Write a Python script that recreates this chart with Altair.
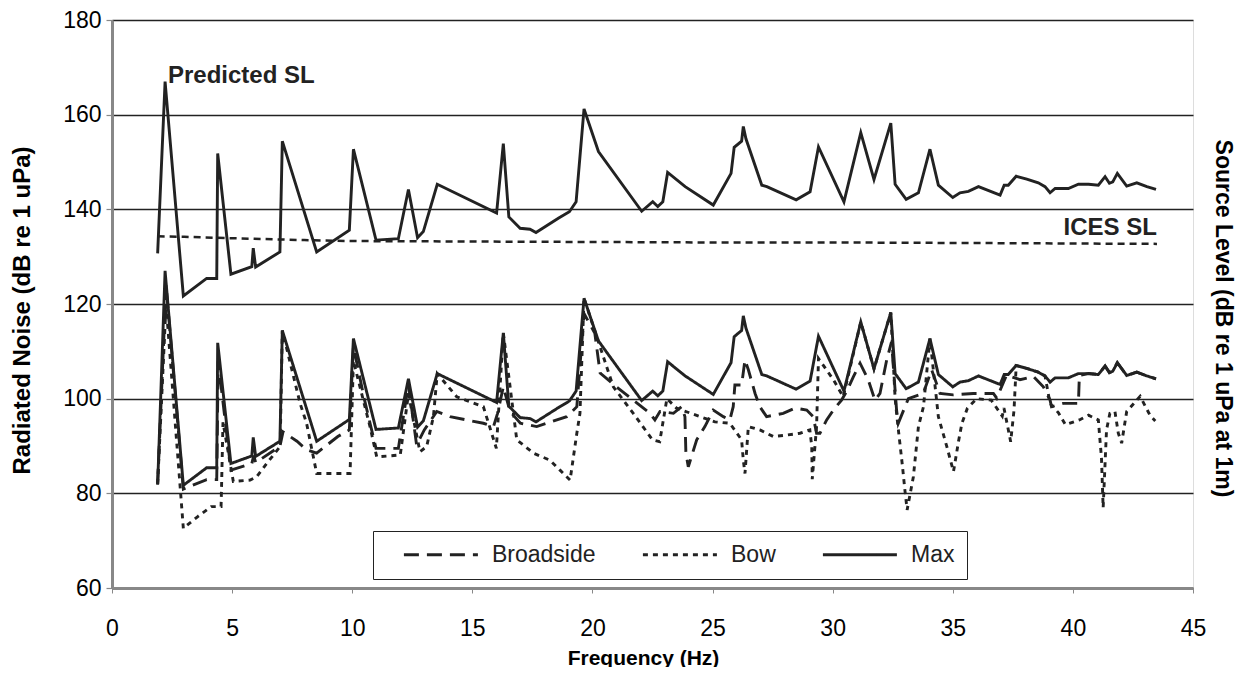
import altair as alt
import pandas as pd

# ---------------- data ----------------
max_freq = [1.90, 2.21, 2.97, 3.94, 4.36, 4.40, 4.95, 5.82, 5.88, 5.98, 6.99, 7.09, 8.52, 9.88, 10.05,
            10.99, 11.92, 12.34, 12.72, 12.96, 13.54, 16.01, 16.29, 16.52, 16.99, 17.40, 17.65, 18.58,
            19.04, 19.32, 19.65, 20.25, 22.05, 22.51, 22.72, 22.93, 23.13, 23.86, 25.03, 25.77, 25.90,
            26.21, 26.28, 26.39, 27.05, 27.26, 28.48, 29.06, 29.41, 30.47, 31.17, 31.72, 32.42, 32.60,
            33.06, 33.57, 34.05, 34.40, 35.00, 35.30, 35.65, 36.07, 36.97, 37.14, 37.31, 37.64, 38.08,
            38.56, 38.84, 39.05, 39.26, 39.81, 40.23, 40.65, 41.06, 41.34, 41.52, 41.66, 41.85, 42.24,
            42.66, 43.08, 43.46]
max_db = [81.8, 127.0, 81.7, 85.4, 85.4, 111.8, 86.3, 87.9, 91.8, 87.8, 91.0, 114.4, 91.0, 95.6, 112.7,
          93.5, 93.8, 104.2, 94.0, 95.3, 105.3, 99.2, 113.9, 98.4, 96.0, 95.8, 95.1, 98.1,
          99.5, 101.6, 121.2, 112.2, 99.6, 101.6, 100.6, 101.6, 107.8, 104.8, 100.9, 107.6, 113.1,
          114.4, 117.5, 114.9, 105.1, 104.8, 102.0, 103.7, 113.2, 101.6, 116.2, 106.3, 118.2, 105.3,
          102.1, 103.5, 112.7, 105.1, 102.5, 103.5, 103.8, 104.8, 103.0, 105.1, 105.1, 107.0, 106.4,
          105.6, 104.8, 103.5, 104.4, 104.4, 105.3, 105.3, 105.1, 106.9, 105.5, 105.8, 107.6, 104.9,
          105.6, 104.8, 104.2]

pred_db = [130.7, 167.0, 121.7, 125.4, 125.4, 151.8, 126.3, 127.9, 131.8, 127.8, 131.0, 154.4, 131.0, 135.6, 152.7,
           133.5, 133.8, 144.2, 134.0, 135.3, 145.3, 139.2, 153.9, 138.4, 136.0, 135.8, 135.1, 138.1,
           139.5, 141.6, 161.2, 152.2, 139.6, 141.6, 140.6, 141.6, 147.8, 144.8, 140.9, 147.6, 153.1,
           154.4, 157.5, 154.9, 145.1, 144.8, 142.0, 143.7, 153.2, 141.6, 156.2, 146.3, 158.2, 145.3,
           142.1, 143.5, 152.7, 145.1, 142.5, 143.5, 143.8, 144.8, 143.0, 145.1, 145.1, 147.0, 146.4,
           145.6, 144.8, 143.5, 144.4, 144.4, 145.3, 145.3, 145.1, 146.9, 145.5, 145.8, 147.6, 144.9,
           145.6, 144.8, 144.2]

broad_freq = [1.90, 2.05, 2.25, 2.97, 3.94, 4.36, 4.42, 4.95, 5.82, 5.90,
              5.98, 6.99, 7.12, 7.70, 8.10, 8.52, 9.40, 9.88, 10.05, 10.50,
              10.99, 11.92, 12.34, 12.68, 13.00, 13.52, 14.07, 15.46, 15.88, 16.05,
              16.29, 16.57, 17.00, 17.68, 18.93, 19.35, 19.65, 20.10, 20.32, 21.00,
              21.70, 22.40, 22.60, 22.81, 23.37, 23.71, 23.85, 23.89, 23.99, 24.34,
              24.68, 25.03, 25.45, 25.72, 25.86, 25.93, 26.21, 26.35, 26.49, 26.77,
              26.97, 27.25, 27.94, 28.43, 28.92, 29.19, 29.33, 29.47, 29.75, 30.03,
              30.37, 30.58, 30.86, 31.14, 31.48, 31.76, 31.97, 32.25, 32.45, 32.66,
              32.73, 33.15, 33.77, 34.12, 34.47, 35.02, 35.85, 36.69, 36.83, 37.24,
              37.80, 38.35, 38.77, 39.05, 39.11, 39.60, 40.23, 40.27, 40.65, 41.06,
              41.34, 41.52, 41.66, 41.85, 42.24, 42.66, 43.08, 43.46]
broad_db = [82.0, 100.0, 124.0, 80.9, 82.9, 82.9, 108.0, 84.9, 86.3, 88.0,
            86.5, 89.9, 93.0, 91.0, 89.2, 88.5, 92.0, 93.4, 111.0, 100.0,
            89.5, 89.5, 103.0, 90.2, 93.4, 97.3, 96.2, 94.8, 94.1, 96.9,
            102.5, 97.3, 94.8, 94.1, 96.2, 98.3, 118.0, 113.8, 105.4, 102.5,
            99.7, 96.9, 95.5, 97.3, 96.9, 98.3, 96.2, 88.5, 85.6, 91.3,
            94.1, 97.6, 96.2, 95.5, 98.3, 102.9, 102.9, 108.2, 106.1, 101.1,
            98.3, 96.2, 96.9, 98.0, 97.6, 96.2, 92.7, 92.7, 95.5, 97.6,
            99.7, 101.5, 104.6, 107.5, 104.0, 99.7, 101.1, 108.2, 112.0, 97.6,
            94.8, 100.0, 101.1, 106.1, 101.1, 100.8, 101.1, 101.1, 100.1, 105.0,
            104.0, 104.7, 102.5, 99.7, 98.3, 99.0, 99.0, 104.9, 105.3, 105.1,
            106.9, 105.5, 105.8, 107.6, 104.9, 105.6, 104.8, 104.2]

bow_freq = [1.90, 2.25, 2.97, 3.57, 4.13, 4.54, 4.56, 4.62, 5.05, 5.75,
            6.02, 6.44, 7.00, 7.09, 7.83, 8.10, 8.52, 9.91, 10.05, 10.46,
            10.74, 11.02, 12.00, 12.34, 12.82, 13.10, 13.38, 13.54, 14.35, 15.46,
            16.00, 16.29, 16.85, 17.54, 18.23, 18.65, 19.07, 19.35, 19.48, 19.65,
            20.87, 21.70, 22.10, 22.50, 22.80, 23.10, 23.50, 24.48, 25.10, 25.72,
            26.21, 26.28, 26.35, 26.49, 26.97, 27.53, 28.08, 28.64, 29.05, 29.13,
            29.15, 29.33, 29.41, 30.03, 30.44, 31.17, 31.72, 32.42, 32.60, 32.70,
            32.90, 33.00, 33.10, 33.36, 33.57, 33.78, 34.05, 34.40, 34.75, 35.03,
            35.24, 35.38, 35.61, 36.00, 36.60, 37.06, 37.13, 37.27, 37.41, 37.55,
            37.64, 38.08, 38.56, 38.84, 39.05, 39.40, 39.69, 40.27, 40.65, 41.06,
            41.12, 41.19, 41.26, 41.40, 41.54, 41.75, 41.89, 42.03, 42.24, 42.80,
            43.22, 43.43]
bow_db = [82.0, 120.0, 72.6, 75.1, 77.2, 77.2, 81.3, 95.0, 82.5, 82.8,
          83.5, 86.3, 89.9, 114.4, 99.0, 94.8, 84.2, 84.2, 108.0, 99.7,
          94.1, 87.7, 88.1, 101.0, 88.8, 89.9, 96.2, 105.3, 100.4, 98.3,
          89.5, 113.9, 91.3, 88.5, 87.0, 84.9, 82.8, 92.7, 96.9, 121.2,
          102.5, 96.9, 94.1, 91.3, 90.9, 100.0, 98.0, 96.2, 95.1, 94.8,
          91.3, 87.0, 84.2, 94.1, 93.4, 92.0, 92.3, 92.7, 93.4, 89.9,
          83.0, 94.1, 108.5, 104.0, 100.4, 116.2, 106.3, 118.2, 100.0, 95.0,
          86.0, 81.0, 76.5, 83.5, 94.1, 98.3, 112.7, 96.2, 89.9, 84.6,
          91.0, 94.8, 98.0, 100.0, 99.7, 96.3, 98.0, 94.5, 90.9, 97.6,
          107.0, 106.4, 105.6, 104.8, 99.0, 97.0, 94.5, 95.5, 96.5, 95.5,
          91.7, 87.5, 77.0, 93.4, 96.9, 97.3, 92.7, 90.6, 97.3, 100.5,
          96.4, 95.3]

ices_freq = [1.9, 3.0, 5.0, 8.0, 10.0, 15.0, 20.0, 25.0, 30.0, 35.0, 43.5]
ices_db = [134.3, 134.2, 133.9, 133.5, 133.3, 133.2, 133.1, 133.0, 133.0, 132.9, 132.7]

series_names = ["Broadside", "Bow", "Max"]
x_ticks = [0, 5, 10, 15, 20, 25, 30, 35, 40, 45]
y_ticks = [60, 80, 100, 120, 140, 160, 180]

pred_label = {"text": "Predicted SL", "freq": 2.33, "level": 168.2}
ices_label = {"text": "ICES SL", "freq": 43.5, "level": 136.0}

# ---------------- tables ----------------
rows = []
for f, v in zip(broad_freq, broad_db):
    rows.append({"freq": f, "level": v, "series": "Broadside"})
for f, v in zip(bow_freq, bow_db):
    rows.append({"freq": f, "level": v, "series": "Bow"})
for f, v in zip(max_freq, max_db):
    rows.append({"freq": f, "level": v, "series": "Max"})
measured = pd.DataFrame(rows)

pred = pd.DataFrame({"freq": max_freq, "level": pred_db})
ices = pd.DataFrame({"freq": ices_freq, "level": ices_db})

INK = "#222222"
FONT = "Liberation Sans"

x_axis = alt.Axis(values=x_ticks, grid=False, domainWidth=3, tickSize=5, tickWidth=1,
                  labelFontSize=23, labelPadding=24, labelFlush=False,
                  title="Frequency (Hz)", titleFontSize=21, titleFontWeight="bold",
                  titleX=531, titleY=70, titleBaseline="middle")
left_axis = alt.Axis(values=y_ticks, grid=True, gridColor=INK, gridWidth=1.3,
                     domainWidth=3, tickSize=6, tickWidth=1.2, labelFontSize=23, labelPadding=5,
                     labelFlush=False,
                     title="Radiated Noise (dB re 1 uPa)", titleFontSize=24, titleFontWeight="bold",
                     titleAngle=270, titleX=-90, titleY=290, titleAlign="center",
                     titleBaseline="middle")
right_axis = alt.Axis(orient="right", labels=False, ticks=False, domain=False, grid=False,
                      title="Source Level (dB re 1 uPa at 1m)", titleFontSize=23,
                      titleFontWeight="bold", titleAngle=90, titleX=29, titleY=298,
                      titleAlign="center", titleBaseline="middle")

xscale = alt.Scale(domain=[0, 45], nice=False, zero=False)
yscale = alt.Scale(domain=[60, 180], nice=False, zero=False)

x_enc = alt.X("freq:Q", scale=xscale, axis=x_axis)
y_left = alt.Y("level:Q", scale=yscale, axis=left_axis)
y_right = alt.Y("level:Q", scale=yscale, axis=right_axis)

lines = alt.Chart(measured).mark_line(color=INK, strokeWidth=2.9, strokeJoin="miter").encode(
    x=x_enc,
    y=y_left,
    strokeDash=alt.StrokeDash(
        "series:N",
        scale=alt.Scale(domain=series_names, range=[[15, 8], [5, 5], [1, 0]]),
        legend=alt.Legend(orient="none", legendX=261, legendY=511, direction="horizontal",
                          columns=3, title=None, symbolType="M-9,0L1,0", symbolSize=219,
                          symbolStrokeWidth=2.9, symbolStrokeColor=INK, labelFontSize=23,
                          labelFont=FONT, labelColor=INK, padding=12, strokeColor=INK,
                          fillColor="white", columnPadding=28, symbolOffset=74, labelOffset=10),
    ),
    detail="series:N",
)

pred_text = alt.Chart(pd.DataFrame([pred_label])).mark_text(
    fontSize=24, fontWeight="bold", font=FONT, color=INK, baseline="middle", align="left"
).encode(x=x_enc, y=y_left, text="text:N")
ices_text = alt.Chart(pd.DataFrame([ices_label])).mark_text(
    fontSize=24, fontWeight="bold", font=FONT, color=INK, baseline="middle", align="right"
).encode(x=x_enc, y=y_left, text="text:N")

left = alt.layer(lines, pred_text, ices_text)

pred_line = alt.Chart(pred).mark_line(color=INK, strokeWidth=2.9).encode(x=x_enc, y=y_right)
ices_line = alt.Chart(ices).mark_line(color=INK, strokeWidth=2.5, strokeDash=[7, 5]).encode(
    x=x_enc, y=y_right)
right = alt.layer(pred_line, ices_line)

chart = alt.layer(left, right).resolve_scale(y="independent").properties(
    width=1081, height=568,
    autosize=alt.AutoSizeParams(type="none"),
    padding={"left": 104, "top": 12, "right": 45, "bottom": 79},
).configure_view(stroke=INK, strokeWidth=2.5).configure_axis(
    domainColor=INK, tickColor=INK, labelColor=INK, titleColor=INK,
    labelFont=FONT, titleFont=FONT,
).configure(background="white")

chart.save("out.html", embed_options={"renderer": "svg", "actions": False})
